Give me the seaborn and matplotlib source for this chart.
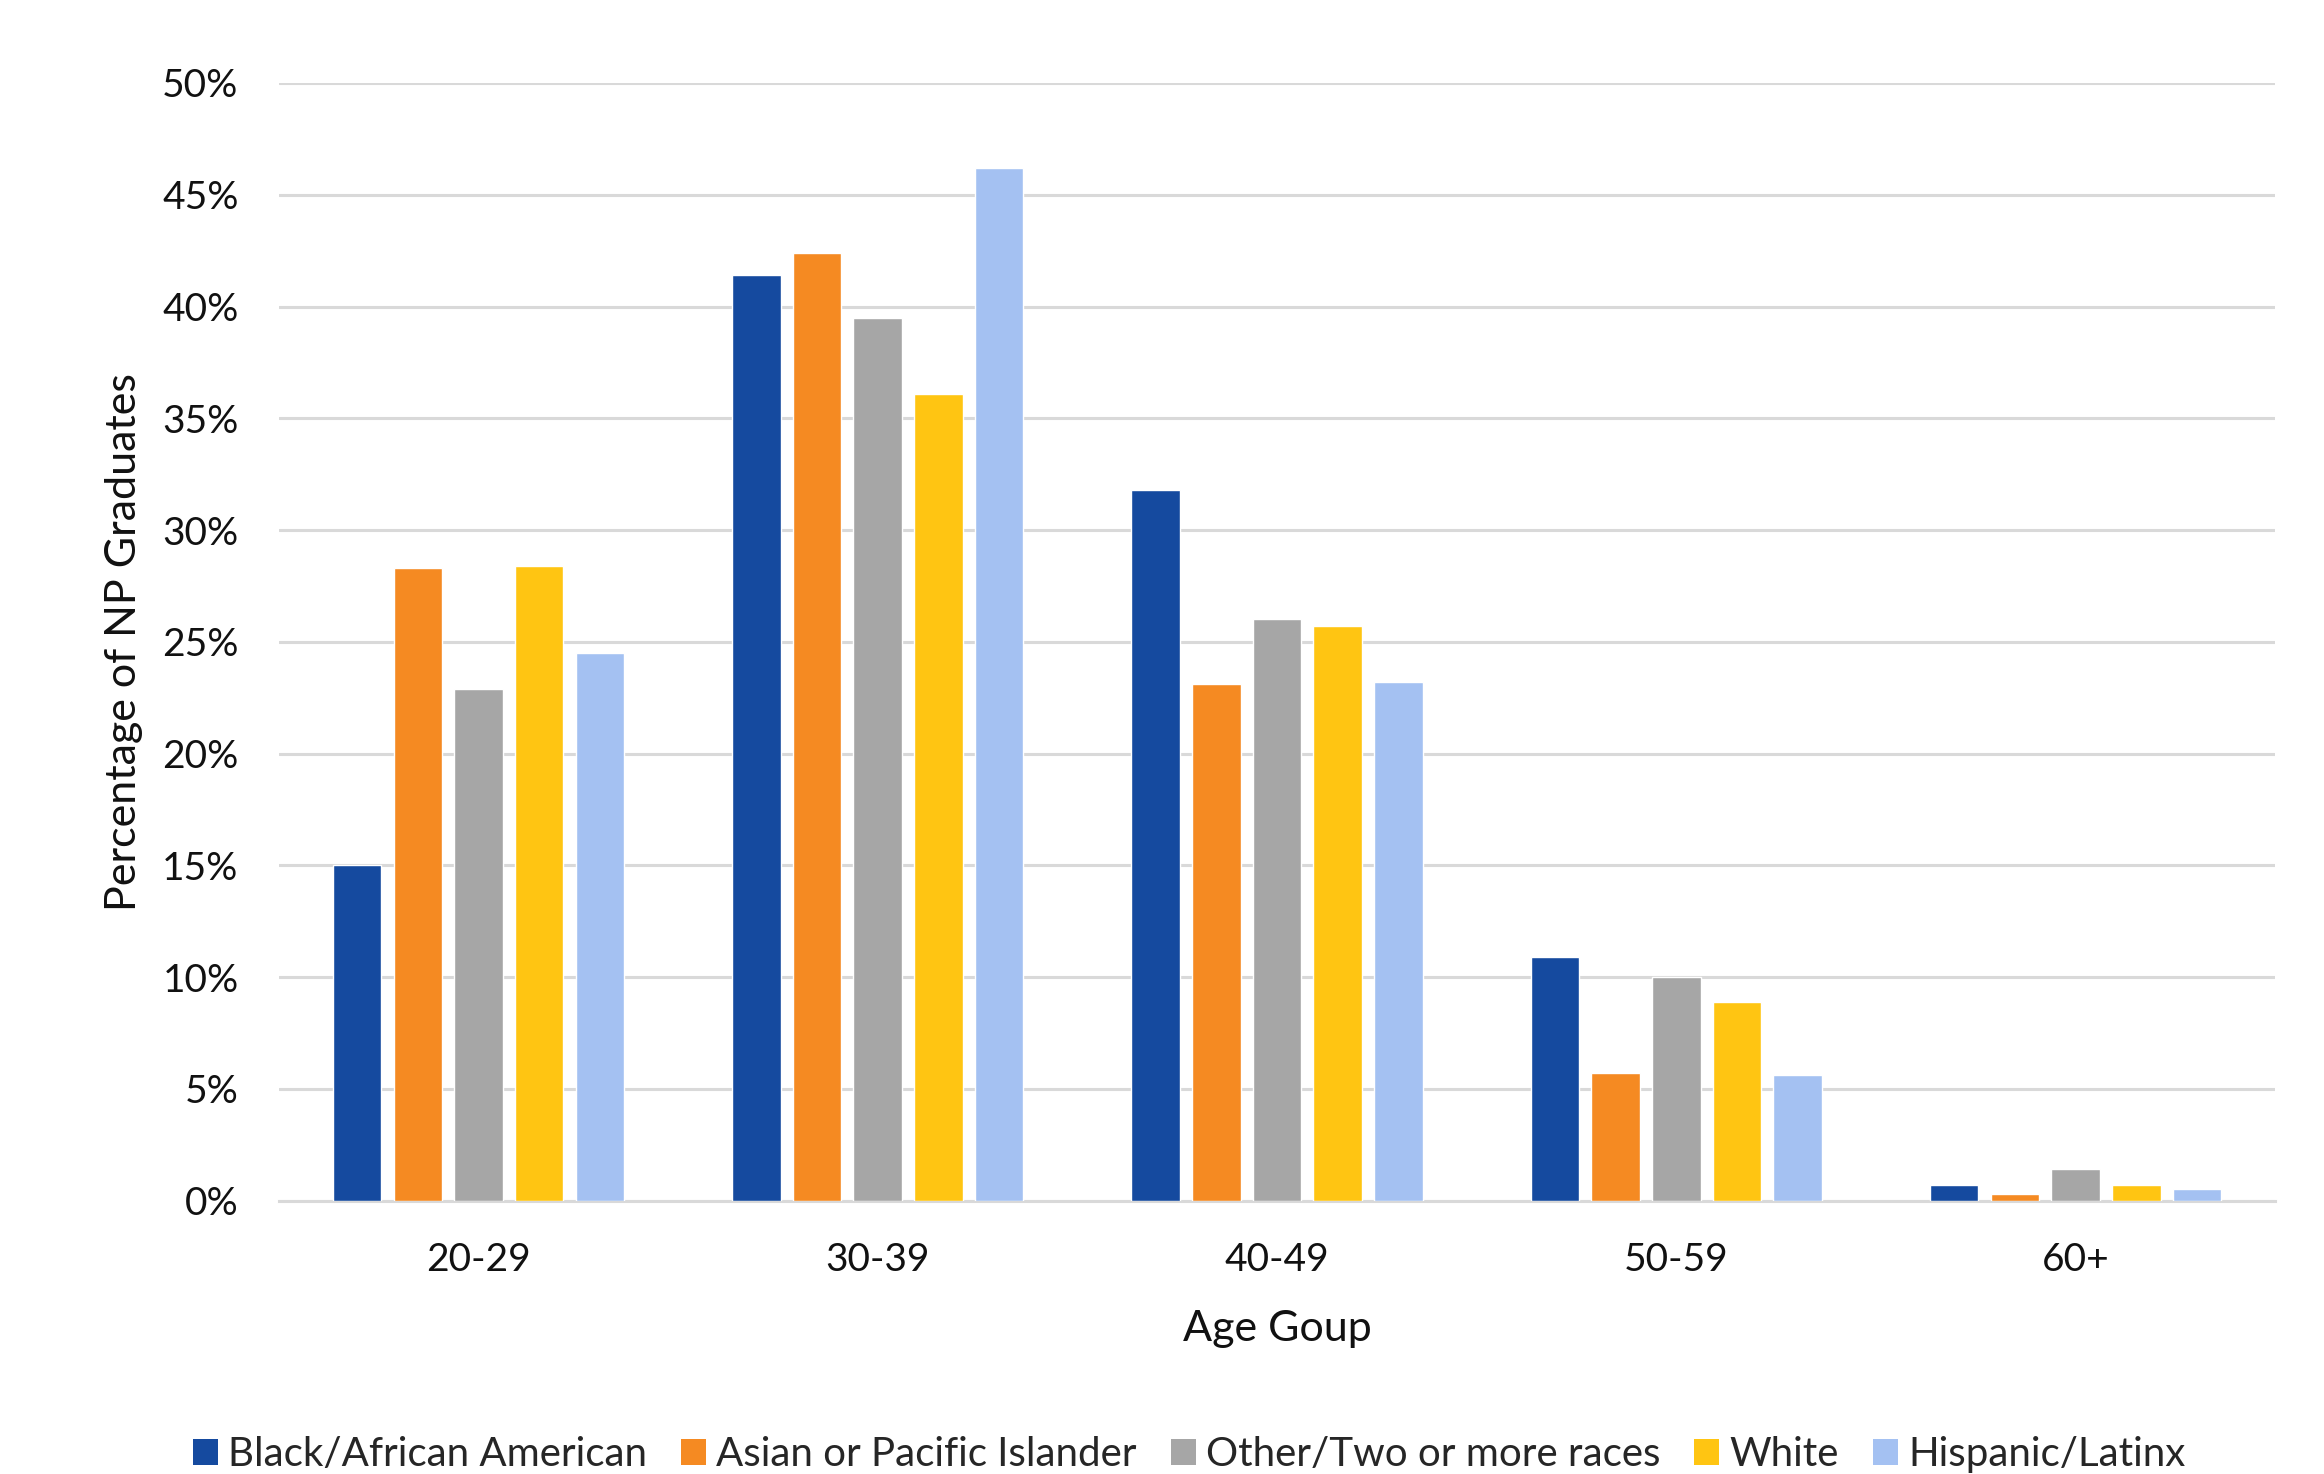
import matplotlib
matplotlib.use("Agg")
import matplotlib.pyplot as plt
from matplotlib.ticker import FuncFormatter
import seaborn as sns
import pandas as pd

age_groups = ["20-29", "30-39", "40-49", "50-59", "60+"]
races = ["Black/African American", "Asian or Pacific Islander",
         "Other/Two or more races", "White", "Hispanic/Latinx"]

black = [15.0, 41.4, 31.8, 10.9, 0.7]
asian = [28.3, 42.4, 23.1, 5.7, 0.3]
other = [22.9, 39.5, 26.0, 10.0, 1.4]
white = [28.4, 36.1, 25.7, 8.9, 0.7]
hispanic = [24.5, 46.2, 23.2, 5.6, 0.5]

colors = ["#154A9F", "#F58A22", "#A6A6A6", "#FFC512", "#A4C1F2"]
yticks = [0, 5, 10, 15, 20, 25, 30, 35, 40, 45, 50]

series = [black, asian, other, white, hispanic]
rows = []
for race, vals in zip(races, series):
    for grp, v in zip(age_groups, vals):
        rows.append({"Age": grp, "Race": race, "Pct": v})
df = pd.DataFrame(rows)

sns.set_theme(style="white")
plt.rcParams["font.family"] = ["Lato", "DejaVu Sans"]

fig = plt.figure(figsize=(23.24, 14.74), dpi=100)
ax = fig.add_axes([0.1200, 0.1855, 0.8590, 0.7582])

sns.barplot(data=df, x="Age", y="Pct", hue="Race", order=age_groups,
            hue_order=races, palette=colors, saturation=1, width=0.76,
            gap=0.2, edgecolor="white", linewidth=1.0, ax=ax, legend=True,
            errorbar=None, zorder=3)

ax.set_ylim(0, 50)
ax.set_yticks(yticks)
ax.yaxis.set_major_formatter(FuncFormatter(lambda v, p: f"{v:.0f}%"))
ax.grid(axis="y", color="#D9D9D9", linewidth=2.2, zorder=0)
ax.set_axisbelow(True)
for s in ["top", "right", "left"]:
    ax.spines[s].set_visible(False)
ax.spines["bottom"].set_color("#D9D9D9")
ax.spines["bottom"].set_linewidth(2.2)
ax.spines["bottom"].set_zorder(2)

ax.tick_params(axis="y", labelsize=28, length=0, pad=29, labelcolor="#111111")
ax.tick_params(axis="x", labelsize=28, length=0, pad=30, labelcolor="#111111")
ax.set_xlabel("Age Goup", fontsize=31, labelpad=23, color="#111111")
ax.set_ylabel("Percentage of NP Graduates", fontsize=31, labelpad=14, color="#111111")

handles, labels = ax.get_legend_handles_labels()
ax.get_legend().remove()
leg = fig.legend(handles, labels, loc="center", bbox_to_anchor=(0.5116, 0.013),
                 ncol=5, frameon=False, fontsize=29, handlelength=0.62,
                 handleheight=0.62, handletextpad=0.25, columnspacing=0.85)
for h in leg.legend_handles:
    h.set_edgecolor("none")

fig.savefig("out.png", dpi=100)
